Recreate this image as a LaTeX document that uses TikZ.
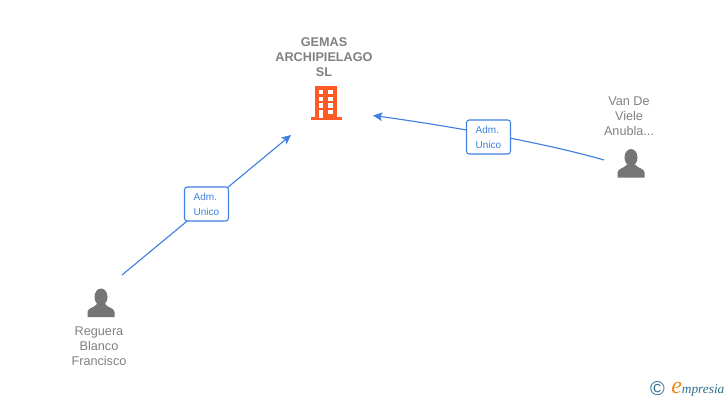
\documentclass[tikz,border=0pt]{standalone}
\usetikzlibrary{arrows.meta}
\usepackage{fontspec}
\setmainfont{Liberation Sans}
\newfontfamily\logofont{Liberation Serif}
\definecolor{linkblue}{HTML}{3F80E0}
\definecolor{namegrey}{HTML}{808080}
\definecolor{icongrey}{HTML}{757575}
\definecolor{buildorange}{HTML}{FF5A26}
\definecolor{logoteal}{HTML}{2F6F8C}
\definecolor{logoorange}{HTML}{F08A1E}
\tikzset{
  link/.style={draw=linkblue, line width=0.85pt},
  tagbox/.style={draw=linkblue, line width=0.8pt, fill=white, rounded corners=2pt, minimum width=33pt, minimum height=25.5pt, inner sep=0pt, align=left, text=linkblue, font=\fontsize{7.5}{11.2}\selectfont},
  partyname/.style={align=center, text=namegrey, inner sep=0pt, font=\fontsize{9.5}{11.25}\selectfont},
  person/.pic={
    \fill[icongrey] (0,-20) ellipse (6.5 and 8.5);
    \fill[icongrey] (-13.5,0) -- (-13.5,-5) .. controls (-13.5,-9) and (-7,-9) .. (-4,-13) -- (4,-13) .. controls (7,-9) and (13.5,-9) .. (13.5,-5) -- (13.5,0) -- cycle;
  },
  building/.pic={
    \fill[buildorange] (315,86) rectangle (337.3,118);
    \fill[buildorange] (310.5,117.2) rectangle (342,120);
    \foreach \wy in {90,96.8,103.3,110} {
      \fill[white] (318.7,\wy) rectangle +(4.6,4.2);
    }
    \foreach \wy in {90,96.8,103.3,110} {
      \fill[white] (328.3,\wy) rectangle +(4.6,4.2);
    }
    \fill[white] (318.7,110) rectangle (323.3,118);
  }
}
\begin{document}
\begin{tikzpicture}[x=0.75pt, y=-0.75pt, >={Stealth[length=7pt, width=6.5pt, inset=1.5pt]}]
  \useasboundingbox (0,0) rectangle (728,400);
  \pic at (0,0) {building};
  \pic at (101,317) {person};
  \pic at (631,177.5) {person};
  \node[partyname, font=\fontsize{9.5}{11.25}\selectfont\bfseries] (gemas) at (324,57) {GEMAS\\ARCHIPIELAGO\\SL};
  \node[partyname] (reguera) at (99,346) {Reguera\\Blanco\\Francisco};
  \node[partyname] (viele) at (629,116) {Van De\\Viele\\Anubla...};
  \coordinate (regueraend) at (122,275);
  \coordinate (gemasleft) at (291,135);
  \coordinate (vieleend) at (604,160);
  \coordinate (gemasright) at (373,115.5);
  \draw[link, ->] (regueraend) -- (gemasleft);
  \draw[link, ->] (vieleend) .. controls (545,143) and (450,126) .. (gemasright);
  \node[tagbox] (adma) at (206.5,204) {Adm.\\Unico};
  \node[tagbox] (admb) at (488.5,137) {Adm.\\Unico};
  \node[inner sep=0pt, text=logoteal, font=\fontsize{15}{15}\selectfont] (copy) at (657.5,389) {©};
  \node[inner sep=0pt, anchor=base west, text=logoteal, font=\logofont\itshape\fontsize{10}{12}\selectfont] (logo) at (671,393) {{\color{logoorange}\fontsize{18}{12}\selectfont e}mpresia};
\end{tikzpicture}
\end{document}
